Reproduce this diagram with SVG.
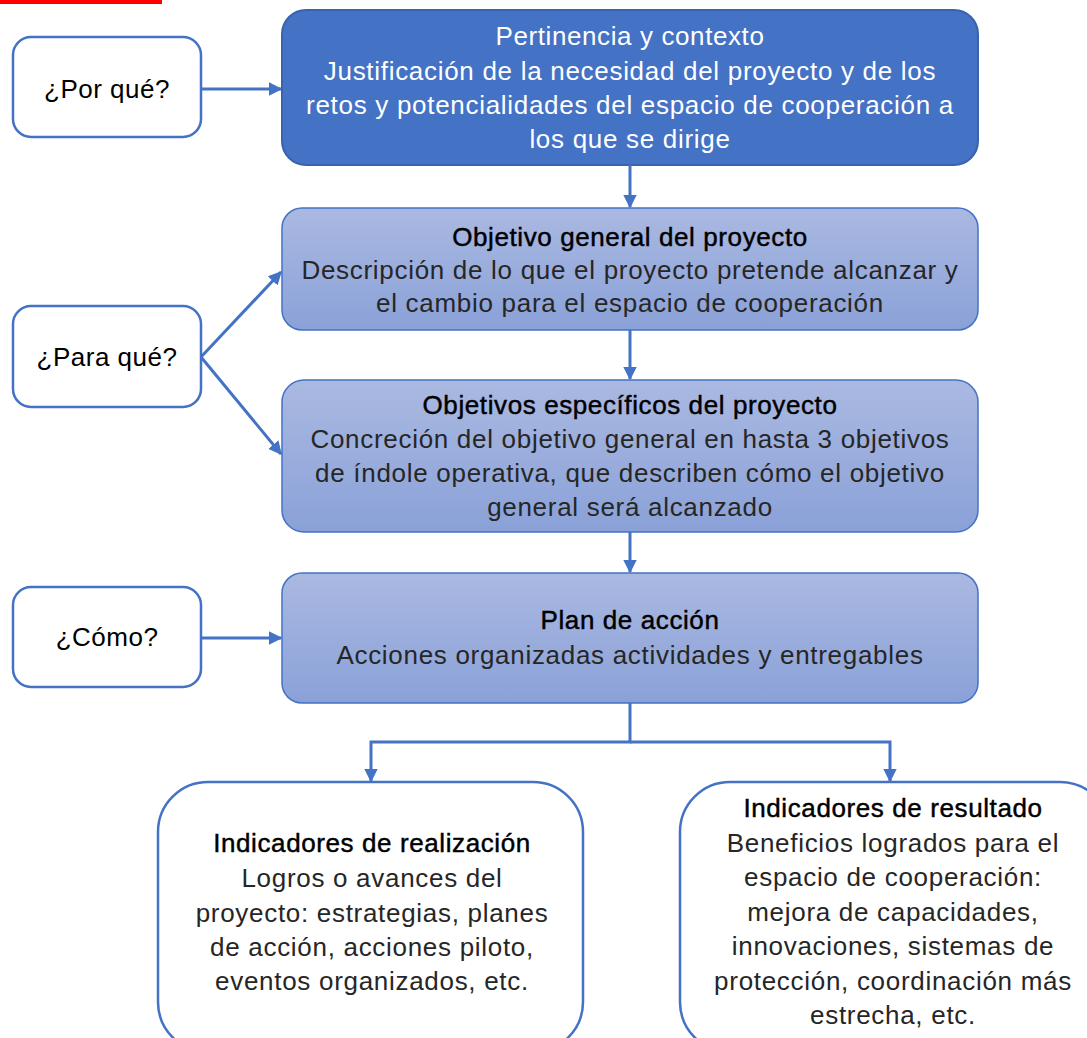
<svg xmlns="http://www.w3.org/2000/svg" width="1087" height="1038" viewBox="0 0 1087 1038">
<defs>
<linearGradient id="g" x1="0" y1="0" x2="0" y2="1">
<stop offset="0" stop-color="#aab9e1"/>
<stop offset="1" stop-color="#8aa1d8"/>
</linearGradient>
<marker id="ah" viewBox="0 0 10 10" refX="9" refY="5" markerWidth="4.5" markerHeight="4.5" orient="auto" markerUnits="strokeWidth">
<path d="M0,0 L10,5 L0,10 z" fill="#4472C4"/>
</marker>
</defs>
<style>
text{font-family:"Liberation Sans",Arial,sans-serif;text-anchor:middle;font-size:26px;letter-spacing:0.7px}
.q{fill:#fff;stroke:#4472C4;stroke-width:2.5}
.lb{fill:url(#g);stroke:#4472C4;stroke-width:1.5}
.t{fill:#000;stroke:#000;stroke-width:0.45;letter-spacing:0.6px}
.b{fill:#262626}
.w{fill:#fff}
.tw{fill:#fff;letter-spacing:0.6px}
.qt{fill:#000;letter-spacing:0.5px}
.c{fill:none;stroke:#4472C4;stroke-width:3}
</style>
<rect x="0" y="0" width="162" height="4" fill="#ff0000"/>

<g id="q1"><rect class="q" x="13" y="37" width="188" height="100" rx="18"/><text class="qt" x="107" y="98">¿Por qué?</text></g>
<g id="q2"><rect class="q" x="13" y="306" width="188" height="101" rx="18"/><text class="qt" x="107" y="366">¿Para qué?</text></g>
<g id="q3"><rect class="q" x="13" y="587" width="188" height="100" rx="18"/><text class="qt" x="107" y="646">¿Cómo?</text></g>

<g id="n1"><rect x="282" y="10" width="696" height="155" rx="24" fill="#4472C4" stroke="#3a63ad" stroke-width="2"/>
<text class="tw" x="630" y="45">Pertinencia y contexto</text>
<text class="w" x="630" y="80">Justificación de la necesidad del proyecto y de los</text>
<text class="w" x="630" y="114">retos y potencialidades del espacio de cooperación a</text>
<text class="w" x="630" y="148">los que se dirige</text></g>

<g id="n2"><rect class="lb" x="282" y="208" width="696" height="122" rx="20"/>
<text class="t" x="630" y="246">Objetivo general del proyecto</text>
<text class="b" x="630" y="279">Descripción de lo que el proyecto pretende alcanzar y</text>
<text class="b" x="630" y="312">el cambio para el espacio de cooperación</text></g>

<g id="n3"><rect class="lb" x="282" y="380" width="696" height="152" rx="22"/>
<text class="t" x="630" y="414">Objetivos específicos del proyecto</text>
<text class="b" x="630" y="448">Concreción del objetivo general en hasta 3 objetivos</text>
<text class="b" x="630" y="482">de índole operativa, que describen cómo el objetivo</text>
<text class="b" x="630" y="516">general será alcanzado</text></g>

<g id="n4"><rect class="lb" x="282" y="573" width="696" height="130" rx="20"/>
<text class="t" x="630" y="629">Plan de acción</text>
<text class="b" x="630" y="664">Acciones organizadas actividades y entregables</text></g>

<g id="n5"><rect class="q" x="158" y="782" width="425" height="270" rx="50"/>
<text class="t" x="372" y="852">Indicadores de realización</text>
<text class="b" x="372" y="887">Logros o avances del</text>
<text class="b" x="372" y="922">proyecto: estrategias, planes</text>
<text class="b" x="372" y="956">de acción, acciones piloto,</text>
<text class="b" x="372" y="990">eventos organizados, etc.</text></g>

<g id="n6"><rect class="q" x="680" y="782" width="430" height="270" rx="50"/>
<text class="t" x="893" y="817">Indicadores de resultado</text>
<text class="b" x="893" y="852">Beneficios logrados para el</text>
<text class="b" x="893" y="886">espacio de cooperación:</text>
<text class="b" x="893" y="921">mejora de capacidades,</text>
<text class="b" x="893" y="955">innovaciones, sistemas de</text>
<text class="b" x="893" y="990">protección, coordinación más</text>
<text class="b" x="893" y="1024">estrecha, etc.</text></g>

<g id="connectors">
<line class="c" x1="201" y1="89" x2="281" y2="89" marker-end="url(#ah)"/>
<line class="c" x1="630" y1="165" x2="630" y2="207" marker-end="url(#ah)"/>
<line class="c" x1="201" y1="357" x2="281" y2="272" marker-end="url(#ah)"/>
<line class="c" x1="201" y1="357" x2="281" y2="454" marker-end="url(#ah)"/>
<line class="c" x1="630" y1="330" x2="630" y2="379" marker-end="url(#ah)"/>
<line class="c" x1="630" y1="532" x2="630" y2="572" marker-end="url(#ah)"/>
<line class="c" x1="201" y1="638" x2="281" y2="638" marker-end="url(#ah)"/>
<polyline class="c" points="630,703 630,742 371,742 371,781" marker-end="url(#ah)"/>
<polyline class="c" points="630,742 890,742 890,781" marker-end="url(#ah)"/>
</g>
</svg>
